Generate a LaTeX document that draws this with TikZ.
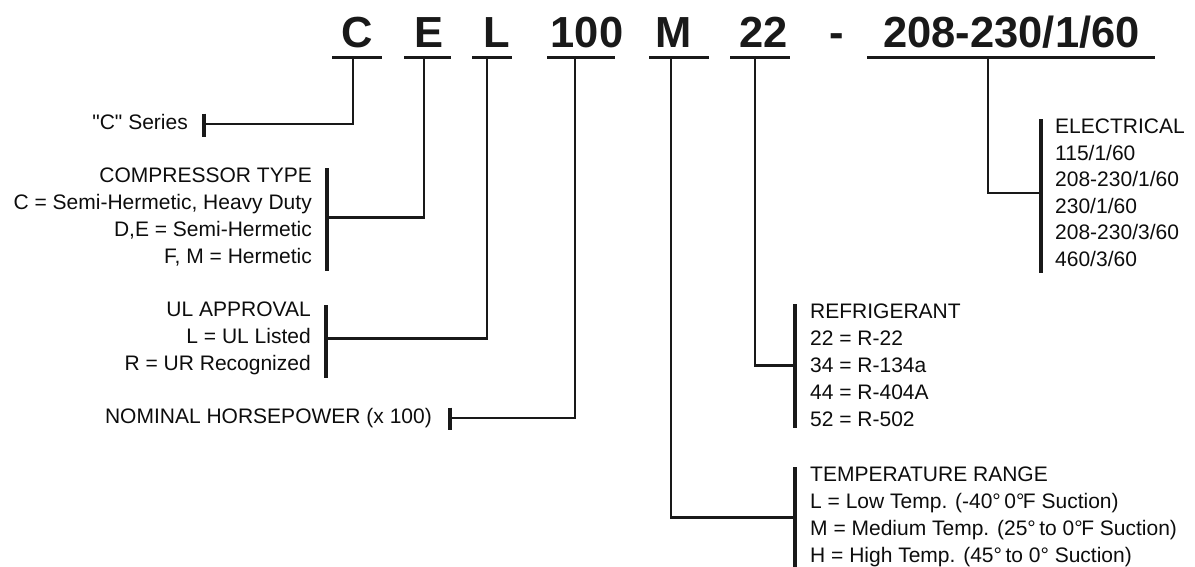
\documentclass[tikz,border=0pt]{standalone}
\usepackage{fontspec}
\setmainfont{Liberation Sans}[Ligatures=TeXOff]
\usetikzlibrary{positioning}

\begin{document}
\begin{tikzpicture}[x=1pt,y=-1pt,
  code/.style={anchor=base,inner sep=0pt,text=black!90,font=\fontsize{43.5}{44}\selectfont\bfseries},
  lbl/.style={inner sep=0pt,text=black!95,font=\fontsize{21}{27}\selectfont},
  uline/.style={line width=3pt,black!90},
  lead/.style={line width=2.7pt,black!90},
  tick/.style={line width=3.2pt,black!90}]
\useasboundingbox (0,0) rectangle (1195,566);

% model number
\node[code] (cSer) at (357,47) {C};
\node[code] (cType) at (429.5,47) {E};
\node[code] (cUL) at (496.5,47) {L};
\node[code] (cHP) at (587,47) {100};
\node[code] (cTemp) at (673.5,47) {M};
\node[code] (cRef) at (763.5,47) {22};
\node[code] (cDash) at (836.5,47) {-};
\node[code] (cVolt) at (1011.5,47) {208-230/1/60};
\draw[uline] (332,57) -- (382,57) (404,57) -- (451,57) (472,57) -- (512,57) (547,57) -- (615,57)
  (649,57) -- (709,57) (730,57) -- (790,57) (867,57) -- (1155,57);
\coordinate (tSer) at (353,57); \coordinate (tType) at (424,57); \coordinate (tUL) at (487,57);
\coordinate (tHP) at (575,57); \coordinate (tTemp) at (671,57); \coordinate (tRef) at (755,57);
\coordinate (tVolt) at (988,57);

% left side
\node[lbl,anchor=base east,text depth=5pt] (lSer) at (188,129) {"C" Series};
\node[lbl,align=right,anchor=north east] (lType) at (312,168) {COMPRESSOR TYPE\\C = Semi-Hermetic, Heavy Duty\\D,E = Semi-Hermetic\\F, M = Hermetic};
\node[lbl,align=right,anchor=north east] (lUL) at (311,302) {UL APPROVAL\\L = UL Listed\\R = UR Recognized};
\node[lbl,anchor=base east,text depth=5pt] (lHP) at (432,423) {NOMINAL HORSEPOWER (x 100)};

\draw[tick] ([xshift=16pt]lSer.north east) -- ([xshift=16pt,yshift=-3pt]lSer.south east);
\draw[tick] ([xshift=15pt]lType.north east) -- ([xshift=15pt,yshift=-4pt]lType.south east);
\draw[tick] ([xshift=15pt,yshift=-3pt]lUL.north east) -- ([xshift=15pt,yshift=-3pt]lUL.south east);
\draw[tick] ([xshift=18pt]lHP.north east) -- ([xshift=18pt,yshift=-2pt]lHP.south east);

\draw[lead] (tSer) |- ([xshift=16pt]lSer.east);
\draw[lead] (tType) |- ([xshift=15pt]lType.east);
\draw[lead] (tUL) |- ([xshift=15pt]lUL.east);
\draw[lead] (tHP) |- ([xshift=18pt]lHP.east);

% right side
\node[lbl,align=left,anchor=north west,font=\fontsize{21}{26.5}\selectfont] (lVolt) at (1055,119) {ELECTRICAL\\115/1/60\\208-230/1/60\\230/1/60\\208-230/3/60\\460/3/60};
\node[lbl,align=left,anchor=north west] (lRef) at (810,304) {REFRIGERANT\\22 = R-22\\34 = R-134a\\44 = R-404A\\52 = R-502};
\node[lbl,align=left,anchor=north west] (lTemp) at (810,467) {TEMPERATURE RANGE\\L = Low Temp. (-40°\,0°\kern-1.5pt F Suction)\\M = Medium Temp. (25°\,to 0°\kern-1.5pt F Suction)\\H = High Temp. (45°\,to 0° Suction)};

\draw[tick] ([xshift=-14pt]lVolt.north west) -- ([xshift=-14pt,yshift=-6pt]lVolt.south west);
\draw[tick] ([xshift=-15pt]lRef.north west) -- ([xshift=-15pt,yshift=-1pt]lRef.south west);
\draw[tick] ([xshift=-15pt]lTemp.north west) -- ([xshift=-15pt]lTemp.south west);

\draw[lead] (tVolt) |- ([xshift=-14pt]lVolt.west);
\draw[lead] (tRef) |- ([xshift=-15pt]lRef.west);
\draw[lead] (tTemp) |- ([xshift=-15pt]lTemp.west);
\end{tikzpicture}
\end{document}
